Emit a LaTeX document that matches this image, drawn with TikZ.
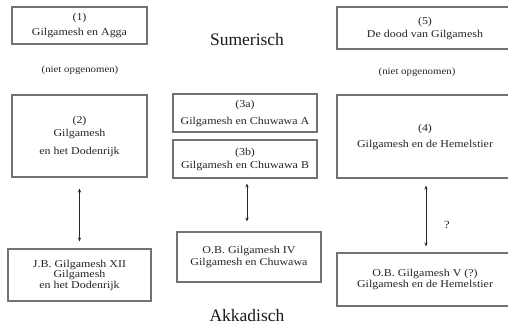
\documentclass[tikz,border=0pt]{standalone}
\usepackage{fontspec}
\setmainfont{Liberation Serif}
\newfontfamily\boxfont[FakeStretch=1.14]{Liberation Serif}
\usetikzlibrary{arrows.meta}
\begin{document}
\begin{tikzpicture}[x=1pt,y=-1pt,
  box/.style={draw=black!55, line width=1.1pt, inner sep=0pt, align=center,
    text=black!85, font=\boxfont\fontsize{10.5}{12}\selectfont},
  lab/.style={text=black!85, font=\boxfont\fontsize{9.5}{11}\selectfont, inner sep=0pt},
  title/.style={text=black!90, font=\fontsize{17.5}{20}\selectfont, inner sep=0pt},
  link/.style={{Stealth[length=4pt,width=3.2pt]}-{Stealth[length=4pt,width=3.2pt]}, line width=0.8pt, black!85}]
\useasboundingbox[fill=white] (0,0) rectangle (508,329);
% Sumerian boxes
\node[box, minimum width=135pt, minimum height=37pt] (b1) at (79.5,25.5) {(1)\\[3pt]Gilgamesh en Agga};
\node[lab] (n1) at (80,70) {(niet opgenomen)};
\node[box, minimum width=135pt, minimum height=82pt] (b2) at (79.5,136) {(2)\\[1pt]Gilgamesh\\[6pt]en het Dodenrijk};
\node[box, minimum width=144pt, minimum height=38pt] (b3a) at (245,113) {(3a)\\[5pt]Gilgamesh en Chuwawa A};
\node[box, minimum width=144pt, minimum height=38pt] (b3b) at (245,159) {(3b)\\[1pt]Gilgamesh en Chuwawa B};
\node[box, minimum width=176pt, minimum height=42pt] (b5) at (425,28) {(5)\\[1pt]De dood van Gilgamesh};
\node[lab] (n5) at (417,72) {(niet opgenomen)};
\node[box, minimum width=176pt, minimum height=83pt] (b4) at (425,136.5) {(4)\\[4pt]Gilgamesh en de Hemelstier};
% Akkadian boxes
\node[box, minimum width=143pt, minimum height=52pt] (bjb) at (79.5,275) {J.B. Gilgamesh XII\\[-1.5pt]Gilgamesh\\[-1.5pt]en het Dodenrijk};
\node[box, minimum width=144pt, minimum height=50pt] (biv) at (249,257) {O.B. Gilgamesh IV\\[0pt]Gilgamesh en Chuwawa};
\node[box, minimum width=176pt, minimum height=53pt] (bv) at (425,279.5) {O.B. Gilgamesh V (?)\\[-1pt]Gilgamesh en de Hemelstier};
% titles
\node[title] (sum) at (247,40) {Sumerisch};
\node[title] (akk) at (247,316) {Akkadisch};
% links
\draw[link, shorten <=11pt, shorten >=7pt] (b2.south) -- (bjb.north);
\draw[link, shorten <=5pt, shorten >=10pt] ([xshift=2pt]b3b.south) -- ([xshift=-2pt]biv.north);
\draw[link, shorten <=7pt, shorten >=6pt] ([xshift=1pt]b4.south) -- ([xshift=1pt]bv.north);
\node[box, draw=none, font=\boxfont\fontsize{11}{12}\selectfont] (q) at (447,225) {?};
\end{tikzpicture}
\end{document}
